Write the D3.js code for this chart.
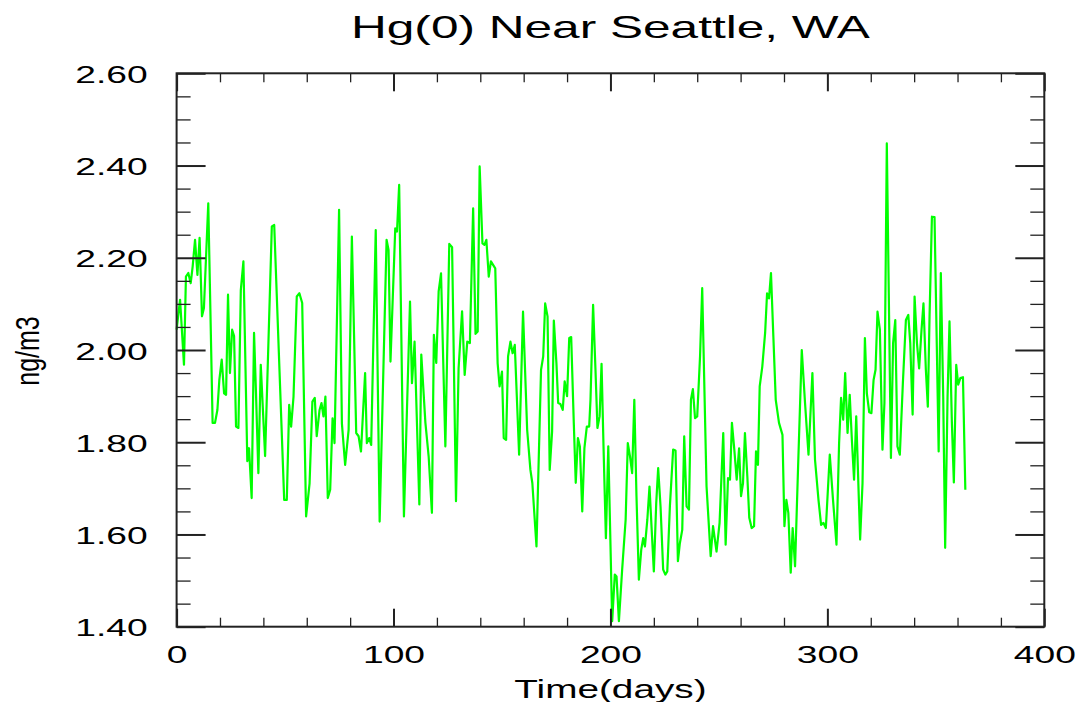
<!DOCTYPE html>
<html>
<head>
<meta charset="utf-8">
<script src="https://cdn.jsdelivr.net/npm/d3@7"></script>
<style>
  html, body { margin: 0; padding: 0; background: #fff; }
  svg { display: block; }
  text { font-family: "Liberation Sans", Arial, Helvetica, sans-serif; fill: #000; }
</style>
</head>
<body>
<svg id="chart" width="1076" height="702"></svg>
<script>
// ---- data ----
const days = [
  0, 1.6, 3.4, 4.3, 5.4, 6.5, 7.4, 8.5, 9.6, 10.6, 11.7, 12.6, 14.6, 16.6, 17.7, 18.8, 19.7, 20.8, 21.9, 22.8,
  23.7, 24.6, 25.6, 26.5, 27.4, 28.5, 29.6, 30.8, 32.6, 33.4, 34.6, 35.7, 36.6, 37.7, 38.8, 40.8, 43.9, 45,
  49.6, 50.8, 51.9, 52.8, 53.9, 55.4, 56.6, 57.9, 59.7, 61.3, 62.6, 63.7, 64.6, 65.9, 66.8, 67.7, 68.6, 69.7,
  70.8, 71.9, 72.8, 74.9, 76.2, 77.7, 79.3, 80.8, 82.8, 83.9, 85, 86.9, 87.7, 88.8, 89.7, 91.8, 93.6,
  96.8, 97.7, 98.6, 100.8, 101.6, 102.6, 104.8, 107.6, 108.5, 109.7, 111.9, 112.8, 114.7, 116.2, 117.7, 118.6,
  119.7, 120.8, 121.9, 123.9, 125.7, 127, 128.8, 130, 131.6, 132.8, 134, 135.2, 136.7, 137.8, 138.8, 139.7,
  141, 141.9, 142.8, 143.9, 144.9, 146.9, 148, 148.9, 150, 150.8, 151.9, 152.8, 153.9, 154.9, 155.9, 157.9,
  159.7, 161.6, 163.1, 164, 165.9, 168, 169, 169.9, 171, 172, 173.1, 173.9, 175.1, 175.9, 176.9, 178, 178.9,
  180, 181, 181.9, 183.1, 184, 185, 185.9, 187, 188, 189.1, 190.2, 190.8, 192, 193.1, 194, 195, 195.9, 196.8,
  197.9, 199, 200.8, 202, 202.8, 203.9, 205.4, 207, 208, 209, 210, 211, 212, 213.1, 214.2, 215.1, 215.9, 217,
  218, 219, 220, 221.1, 222, 223.1, 224.3, 225.3, 226.2, 227.4, 228.9, 230, 231.1, 232, 233.1, 234, 235.1,
  236.2, 237.1, 238, 239, 240, 241.3, 242.3, 244.3, 246.2, 247.3, 248.9, 250.3, 252, 253.1, 254.2, 255.1, 256,
  257.1, 258.2, 259.3, 260.2, 261.1, 262, 263.1, 264, 265.1, 266.2, 267.1, 268, 268.8, 270, 271.3, 272.2,
  273.1, 274, 275.1, 276.2, 277.7, 279.3, 280.2, 281.1, 282, 283.1, 284, 285.1, 286.6, 288.2, 289.7, 291.3,
  293.1, 294.3, 295.9, 297.1, 298.2, 299.3, 301.1, 302.6, 304.2, 305.4, 306.3, 307.3, 308.2, 309.3, 310.3,
  311.3, 312.3, 313.3, 315.1, 316.2, 317.3, 318.2, 319.3, 320.3, 321.3, 322.2, 323.1, 324.2, 325.4, 326.3,
  327.4, 329.3, 330.3, 331.3, 332.3, 333.4, 334.8, 336.2, 337.3, 338.2, 339.3, 340.2, 341.3, 342.3, 343.4,
  344.3, 345.4, 346.3, 347.1, 348.2, 349.4, 351.3, 352.3, 353.4, 354.3, 355.4, 356.3, 357.4, 358.3, 359.4,
  360.3, 361.3, 362.5, 363.6
];
const hg = [
  2.044, 2.109, 1.968, 2.159, 2.167, 2.145, 2.181, 2.239, 2.163, 2.243, 2.073, 2.091, 2.318, 1.842, 1.842, 1.87, 1.935, 1.979, 1.906, 1.903,
  2.12, 1.95, 2.044, 2.03, 1.834, 1.831, 2.13, 2.192, 1.759, 1.787, 1.679, 2.037, 1.906, 1.733, 1.968, 1.77, 2.268, 2.271,
  1.675, 1.675, 1.881, 1.834, 1.899, 2.116, 2.123, 2.102, 1.639, 1.711, 1.888, 1.896, 1.813, 1.87, 1.885, 1.856, 1.899, 1.679,
  1.697, 1.852, 1.798, 2.304, 1.841, 1.751, 1.827, 2.246, 1.82, 1.813, 1.78, 1.95, 1.798, 1.809, 1.794, 2.26, 1.628,
  2.239, 2.217, 1.975, 2.264, 2.257, 2.358, 1.639, 2.105, 1.928, 2.018, 1.665, 1.99, 1.842, 1.769, 1.647, 2.033,
  1.972, 2.127, 2.166, 1.791, 2.23, 2.223, 1.672, 1.961, 2.084, 1.946, 2.018, 2.015, 2.307, 2.035, 2.04, 2.398,
  2.231, 2.228, 2.239, 2.159, 2.192, 2.177, 1.971, 1.921, 1.953, 1.809, 1.805, 1.986, 2.018, 1.993, 2.011, 1.773,
  2.083, 1.827, 1.74, 1.711, 1.574, 1.957, 1.986, 2.101, 2.073, 1.74, 1.823, 2.064, 1.971, 1.885, 1.883, 1.87, 1.932,
  1.9, 2.026, 2.028, 1.842, 1.712, 1.809, 1.791, 1.65, 1.787, 1.834, 1.834, 1.892, 2.098, 1.957, 1.831, 1.856, 1.97, 1.791,
  1.592, 1.791, 1.412, 1.513, 1.509, 1.412, 1.524, 1.632, 1.798, 1.77, 1.733, 1.892, 1.683, 1.502, 1.567, 1.592, 1.574, 1.632,
  1.704, 1.611, 1.52, 1.668, 1.744, 1.66, 1.524, 1.513, 1.52, 1.661, 1.784, 1.782, 1.542, 1.581, 1.61, 1.813, 1.661,
  1.654, 1.892, 1.915, 1.852, 1.856, 1.986, 2.134, 1.704, 1.553, 1.618, 1.563, 1.625, 1.82, 1.578, 1.722, 1.719, 1.842,
  1.784, 1.719, 1.787, 1.683, 1.711, 1.82, 1.726, 1.636, 1.614, 1.618, 1.78, 1.751, 1.921, 1.964, 2.037, 2.123,
  2.112, 2.167, 2.029, 1.892, 1.842, 1.816, 1.618, 1.675, 1.647, 1.517, 1.614, 1.531, 1.762, 2.0, 1.885, 1.773,
  1.95, 1.762, 1.675, 1.621, 1.625, 1.614, 1.773, 1.675, 1.578, 1.798, 1.896, 1.849, 1.95, 1.82, 1.903,
  1.805, 1.719, 1.856, 1.589, 1.711, 2.026, 1.906, 1.865, 1.863, 1.935, 1.957, 2.083, 2.044, 1.784, 1.885,
  2.448, 1.766, 2.015, 2.065, 1.791, 1.773, 1.928, 2.065, 2.076, 2.015, 1.86, 2.116, 2.015, 1.96, 2.044,
  2.101, 1.957, 1.877, 2.073, 2.289, 2.288, 1.78, 2.167, 1.899, 1.571, 1.899, 2.062, 1.842, 1.713, 1.968,
  1.925, 1.939, 1.941, 1.697
];
const xMajorTicks = [0, 100, 200, 300, 400];
const xMinorTicks = [20, 40, 60, 80, 120, 140, 160, 180, 220, 240, 260, 280, 320, 340, 360, 380];
const yMajorTicks = [1.40, 1.60, 1.80, 2.00, 2.20, 2.40, 2.60];
const yMinorTicks = [1.45, 1.50, 1.55, 1.65, 1.70, 1.75, 1.85, 1.90, 1.95, 2.05, 2.10, 2.15, 2.25, 2.30, 2.35, 2.45, 2.50, 2.55];
const titleText = "Hg(0) Near Seattle, WA";
const xLabelText = "Time(days)";
const yLabelText = "ng/m3";

// ---- layout ----
const L = 176.6, R = 1044.3, T = 73.3, B = 626.7;
const SX = 1.55; // horizontal stretch of the lettering in the reference
const svg = d3.select("#chart");

const x = d3.scaleLinear().domain([0, 400]).range([L, R]);
const y = d3.scaleLinear().domain([1.4, 2.6]).range([B, T]);

// data line
const line = d3.line().x((d, i) => x(days[i])).y(d => y(d));
svg.append("path")
  .datum(hg)
  .attr("fill", "none")
  .attr("stroke", "#00ff00")
  .attr("stroke-width", 2.2)
  .attr("stroke-linejoin", "round")
  .attr("d", line);

const axisColor = "#222";
function styleAxis(width) {
  return g => {
    g.select(".domain").remove();
    g.selectAll(".tick line").attr("stroke", axisColor).attr("stroke-width", width);
  };
}

// bottom axis
const gB = svg.append("g").attr("transform", `translate(0,${B})`)
  .call(d3.axisBottom(x).tickValues(xMajorTicks).tickSize(-18).tickFormat(d3.format("d")))
  .call(styleAxis(2));
gB.selectAll(".tick text")
  .attr("y", 0).attr("dy", null)
  .attr("text-anchor", "middle")
  .attr("font-size", 24)
  .attr("transform", `translate(0,36) scale(${SX},1)`);
svg.append("g").attr("transform", `translate(0,${B})`)
  .call(d3.axisBottom(x).tickValues(xMinorTicks).tickSize(-9).tickFormat(""))
  .call(styleAxis(1.3));

// top axis
svg.append("g").attr("transform", `translate(0,${T})`)
  .call(d3.axisTop(x).tickValues(xMajorTicks).tickSize(-18).tickFormat(""))
  .call(styleAxis(2));
svg.append("g").attr("transform", `translate(0,${T})`)
  .call(d3.axisTop(x).tickValues(xMinorTicks).tickSize(-9).tickFormat(""))
  .call(styleAxis(1.3));

// left axis
const gL = svg.append("g").attr("transform", `translate(${L},0)`)
  .call(d3.axisLeft(y).tickValues(yMajorTicks).tickSize(-29).tickFormat(d3.format(".2f")))
  .call(styleAxis(2));
gL.selectAll(".tick text")
  .attr("x", 0).attr("dy", null)
  .attr("text-anchor", "end")
  .attr("font-size", 24)
  .attr("transform", `translate(-29,9) scale(${SX},1)`);
svg.append("g").attr("transform", `translate(${L},0)`)
  .call(d3.axisLeft(y).tickValues(yMinorTicks).tickSize(-14).tickFormat(""))
  .call(styleAxis(1.3));

// right axis
svg.append("g").attr("transform", `translate(${R},0)`)
  .call(d3.axisRight(y).tickValues(yMajorTicks).tickSize(-29).tickFormat(""))
  .call(styleAxis(2));
svg.append("g").attr("transform", `translate(${R},0)`)
  .call(d3.axisRight(y).tickValues(yMinorTicks).tickSize(-14).tickFormat(""))
  .call(styleAxis(1.3));

// frame
svg.append("rect")
  .attr("x", L).attr("y", T).attr("width", R - L).attr("height", B - T)
  .attr("fill", "none").attr("stroke", axisColor).attr("stroke-width", 2);

// title
svg.append("text")
  .attr("transform", `translate(${(L + R) / 2},38) scale(${SX},1)`)
  .attr("text-anchor", "middle")
  .attr("font-size", 32)
  .text(titleText);

// x label
svg.append("text")
  .attr("transform", `translate(${(L + R) / 2},698) scale(${SX},1)`)
  .attr("text-anchor", "middle")
  .attr("font-size", 25)
  .text(xLabelText);

// y label
svg.append("text")
  .attr("transform", `translate(39,351) scale(1.3,1) rotate(-90)`)
  .attr("text-anchor", "middle")
  .attr("font-size", 25)
  .text(yLabelText);
</script>
</body>
</html>
